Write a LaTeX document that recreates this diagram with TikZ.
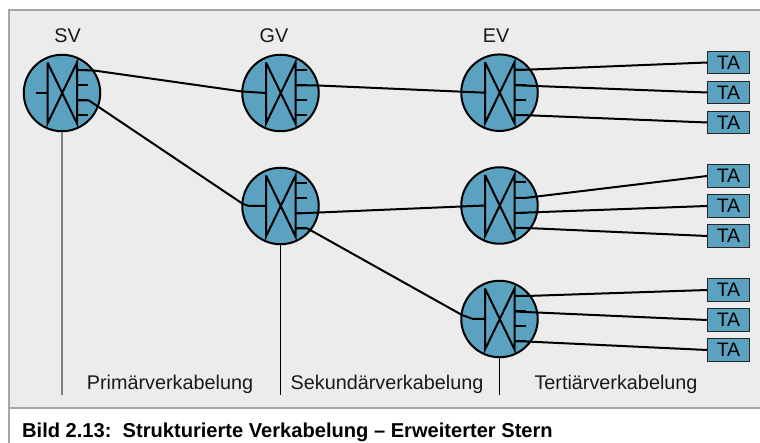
\documentclass[tikz,border=0pt]{standalone}
\usepackage{fontspec}
\setmainfont{Liberation Sans}
\definecolor{panel}{HTML}{ECECEC}
\definecolor{edgegray}{HTML}{A6A6A6}
\definecolor{swblue}{HTML}{5BA2C0}
\tikzset{
  x=1pt,y=-1pt,
  switch/.style={circle,draw=black,line width=2pt,fill=swblue,minimum size=76.5pt,inner sep=0pt},
  tabox/.style={rectangle,draw=black!85,line width=1.3pt,fill=swblue,minimum width=41.5pt,minimum height=22.5pt,inner sep=0pt,font=\fontsize{19.5}{20}\selectfont},
  inner/.style={line width=2pt,black},
  cable/.style={line width=2pt,black,line join=round},
  drop/.style={line width=1.2pt,black},
  lab/.style={inner sep=0pt,anchor=base,font=\fontsize{19.8}{22}\selectfont,text=black!90},
}
\newcommand{\swsym}[3]{%
  \node[switch] (#1) at (#2,#3) {};
  \begin{scope}[shift={(#2,#3)}]
    \coordinate (#1-in) at (-14.5,0);
    \coordinate (#1-o1) at (15,-23);
    \coordinate (#1-o2) at (15,-7.5);
    \coordinate (#1-o3) at (15,7.5);
    \coordinate (#1-o4) at (15,22.5);
    \draw[inner] (-14.5,-30.5) -- (-14.5,30.5) -- (15,-30.5) -- (15,30.5) -- (-14.5,-30.5);
    \foreach \yy in {-23,-7.5,7.5,22.5} \draw[inner] (15,\yy) -- (26,\yy);
  \end{scope}}
\begin{document}
\begin{tikzpicture}
\useasboundingbox (0,0) rectangle (760,443);
\fill[white] (0,0) rectangle (760,443);
\fill[panel] (9,10) rectangle (760,408);
\draw[edgegray,line width=2.5pt] (9,443) -- (9,10) -- (760,10);
\draw[edgegray,line width=2.5pt] (9,408) -- (760,408);

\swsym{sv}{62}{93}
\swsym{gva}{280.5}{93}
\swsym{eva}{499.5}{92.7}
\swsym{gvb}{280.5}{206}
\swsym{evb}{499.5}{205.5}
\swsym{evc}{499.5}{319}

\coordinate (svstub) at (36,93);
\draw[inner] (svstub) -- (sv-in);

\node[lab] (tsv) at (67.5,43) {SV};
\node[lab] (tgv) at (274,43) {GV};
\node[lab] (tev) at (496,43) {EV};

\node[tabox] (t1) at (728.5,62.5) {TA};
\node[tabox] (t2) at (728.5,92.5) {TA};
\node[tabox] (t3) at (728.5,122.5) {TA};
\node[tabox] (t4) at (728.5,176) {TA};
\node[tabox] (t5) at (728.5,206) {TA};
\node[tabox] (t6) at (728.5,236) {TA};
\node[tabox] (t7) at (728.5,290) {TA};
\node[tabox] (t8) at (728.5,320) {TA};
\node[tabox] (t9) at (728.5,350) {TA};

\draw[cable] (sv-o1) -- ++(17,0.5) -- (242,91.5) -- (gva-in);
\draw[cable] (sv-o3) -- ++(12,0) -- (243,204) -- ++(6,2) -- (gvb-in);
\draw[cable] (gva-o2) -- ++(23,0) -- (eva-in);
\draw[cable] (gvb-o3) -- (evb-in);
\draw[cable] (gvb-o4) -- ++(12,0) -- (462,315) -- ++(11,4) -- (evc-in);

\draw[cable] (eva-o1) -- ++(12,0) -- (t1.west);
\draw[cable] (eva-o2) -- (t2.west);
\draw[cable] (eva-o4) -- ++(12,0) -- (t3.west);
\draw[cable] (evb-o2) -- ++(10,0) -- (t4.west);
\draw[cable] (evb-o3) -- (t5.west);
\draw[cable] (evb-o4) -- ++(12,0) -- (t6.west);
\draw[cable] (evc-o1) -- ++(12,0) -- (t7.west);
\draw[cable] (evc-o2) -- (t8.west);
\draw[cable] (evc-o4) -- ++(12,0) -- (t9.west);

\coordinate (d1) at (62,395);
\coordinate (d2) at (280.5,395);
\coordinate (d3) at (499.5,395);
\draw[gray,line width=1.8pt] (sv.south) -- (d1);
\draw[drop] (gvb.south) -- (d2);
\draw[drop] (evc.south) -- (d3);

\node[lab] (p1) at (170,389) {Primärverkabelung};
\node[lab] (p2) at (387,389) {Sekundärverkabelung};
\node[lab] (p3) at (616,389) {Tertiärverkabelung};
\node[inner sep=0pt,anchor=base west,font=\bfseries\fontsize{20.1}{22}\selectfont] (cap) at (22,437) {Bild 2.13:\ \ Strukturierte Verkabelung – Erweiterter Stern};
\end{tikzpicture}
\end{document}
